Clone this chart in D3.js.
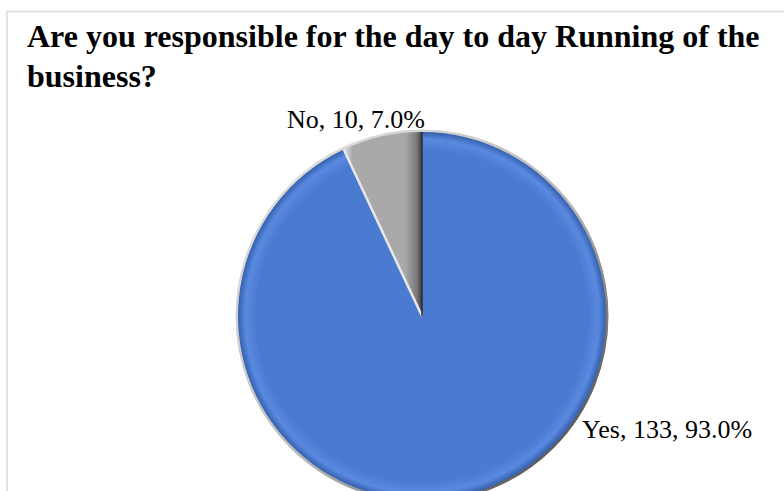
<!DOCTYPE html>
<html>
<head>
<meta charset="utf-8">
<script src="https://cdn.jsdelivr.net/npm/d3@7"></script>
<style>
  html, body { margin: 0; padding: 0; background: #fff; }
</style>
</head>
<body>
<div id="chart"></div>
<script>
// Survey answers
const categories = ['Yes', 'No']
const counts = [133, 10]
const percents = [93.0, 7.0]

const titleLines = ['Are you responsible for the day to day Running of the', 'business?']

// Slice colours (Office blue and grey)
const palette = {
  Yes: { light: '#5a8ae0', base: '#4a7bd0', dark: '#3560ad' },
  No: { light: '#dcdcdc', base: '#a9a9a9', dark: '#3c3c3c' }
}

function pieChart({
  selector = 'body',
  elid = 'pie-chart',
  width = 784,
  height = 491,
  cx = 422,
  cy = 316,
  radius = 184,
  fontFamily = '"Liberation Serif", "Times New Roman", serif',
  titleFontSize = 32,
  labelFontSize = 26
} = {}) {

  const data = categories.map((c, i) => ({ label: c, value: counts[i], pct: percents[i] }))

  const svg = d3.select(selector)
    .append('svg')
    .attr('id', elid)
    .attr('width', width)
    .attr('height', height)
    .style('font-family', fontFamily)

  const defs = svg.append('defs')

  // Chart area border (runs off the right and bottom of the picture)
  svg.append('rect')
    .attr('x', 7)
    .attr('y', 11.5)
    .attr('width', width + 20)
    .attr('height', height + 20)
    .style('fill', 'none')
    .style('stroke', '#d9d9d9')
    .style('stroke-width', 1.5)

  // Title
  svg.append('text')
    .attr('x', 27)
    .attr('y', 47)
    .style('font-size', `${titleFontSize}px`)
    .style('font-weight', 'bold')
    .selectAll('tspan')
    .data(titleLines)
    .join('tspan')
    .attr('x', 27)
    .attr('dy', (d, i) => i ? 40 : 0)
    .text(d => d)

  // Gradients for the bevelled look, in the pie group's own coordinates
  const blueGrad = defs.append('radialGradient')
    .attr('id', 'grad-Yes')
    .attr('gradientUnits', 'userSpaceOnUse')
    .attr('cx', 0).attr('cy', 0).attr('r', radius)
  blueGrad.append('stop').attr('offset', '0%').attr('stop-color', palette.Yes.base)
  blueGrad.append('stop').attr('offset', '90%').attr('stop-color', palette.Yes.base)
  blueGrad.append('stop').attr('offset', '96%').attr('stop-color', palette.Yes.light)
  blueGrad.append('stop').attr('offset', '100%').attr('stop-color', palette.Yes.dark)

  const greyGrad = defs.append('linearGradient')
    .attr('id', 'grad-No')
    .attr('gradientUnits', 'userSpaceOnUse')
    .attr('x1', -radius * 0.42).attr('y1', 0)
    .attr('x2', 0).attr('y2', 0)
  greyGrad.append('stop').attr('offset', '0%').attr('stop-color', palette.No.light)
  greyGrad.append('stop').attr('offset', '10%').attr('stop-color', palette.No.base)
  greyGrad.append('stop').attr('offset', '78%').attr('stop-color', palette.No.base)
  greyGrad.append('stop').attr('offset', '93%').attr('stop-color', '#7a7a7a')
  greyGrad.append('stop').attr('offset', '100%').attr('stop-color', palette.No.dark)

  const rimGrad = defs.append('linearGradient')
    .attr('id', 'grad-rim')
    .attr('x1', '10%').attr('y1', '10%')
    .attr('x2', '90%').attr('y2', '90%')
  rimGrad.append('stop').attr('offset', '0%').attr('stop-color', '#e0e0e0')
  rimGrad.append('stop').attr('offset', '55%').attr('stop-color', '#b8b8b8')
  rimGrad.append('stop').attr('offset', '100%').attr('stop-color', '#505050')

  const pie = d3.pie().sort(null).value(d => d.value)
  const arcs = pie(data)
  const arc = d3.arc().innerRadius(0).outerRadius(radius)

  const gPie = svg.append('g')
    .attr('transform', `translate(${cx},${cy})`)

  // Outer rim / shadow
  gPie.append('circle')
    .attr('r', radius + 1)
    .style('fill', 'none')
    .style('stroke', 'url(#grad-rim)')
    .style('stroke-width', 3)

  gPie.selectAll('.slice')
    .data(arcs)
    .join('path')
    .attr('class', 'slice')
    .attr('d', arc)
    .style('fill', d => `url(#grad-${d.data.label})`)

  // light edge on the leading side of the grey slice, dark on the trailing side
  const noArc = arcs.find(d => d.data.label === 'No')
  gPie.append('line')
    .attr('x1', 0).attr('y1', 0)
    .attr('x2', Math.sin(noArc.startAngle) * radius)
    .attr('y2', -Math.cos(noArc.startAngle) * radius)
    .style('stroke', '#e8e8e8')
    .style('stroke-width', 2.5)
  gPie.append('line')
    .attr('x1', 0).attr('y1', 0)
    .attr('x2', Math.sin(noArc.endAngle) * radius)
    .attr('y2', -Math.cos(noArc.endAngle) * radius)
    .style('stroke', '#2e2e2e')
    .style('stroke-width', 1.5)

  // Data labels, placed as Excel's best fit does
  const labelPos = {
    Yes: { x: cx + radius * 0.87, y: cy + radius * 0.665, anchor: 'start' },
    No: { x: cx + 3, y: cy - radius - 4, anchor: 'end' }
  }
  svg.selectAll('.pieLabel')
    .data(arcs)
    .join('text')
    .attr('class', 'pieLabel')
    .attr('x', d => labelPos[d.data.label].x)
    .attr('y', d => labelPos[d.data.label].y)
    .style('text-anchor', d => labelPos[d.data.label].anchor)
    .style('font-size', `${labelFontSize}px`)
    .style('fill', '#000')
    .text(d => `${d.data.label}, ${d.data.value}, ${d.data.pct.toFixed(1)}%`)
}

pieChart({ selector: '#chart' })
</script>
</body>
</html>
